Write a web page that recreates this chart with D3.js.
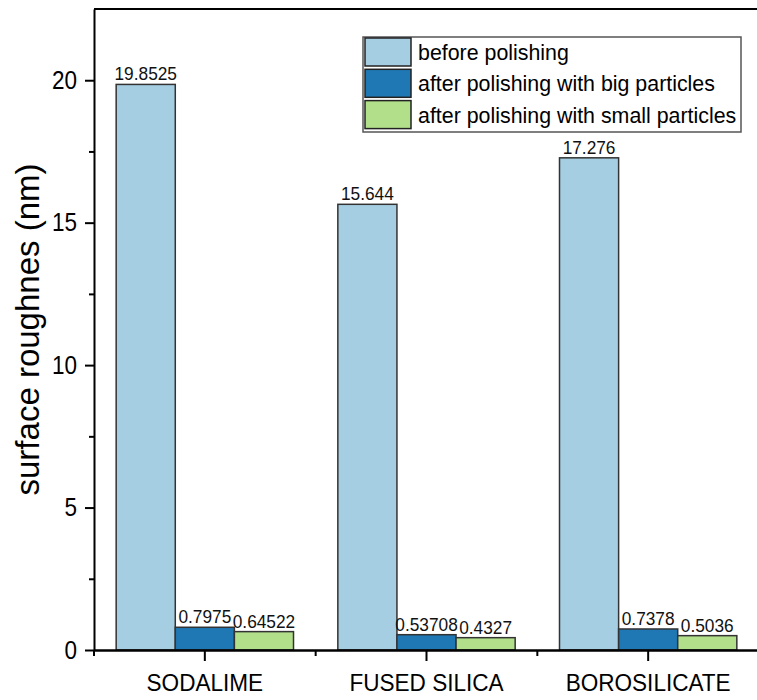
<!DOCTYPE html>
<html>
<head>
<meta charset="utf-8">
<script src="https://cdn.jsdelivr.net/npm/d3@7/dist/d3.min.js"></script>
<style>
  body { margin: 0; background: #fff; }
  svg { display: block; font-family: "Liberation Sans", Arial, sans-serif; }
</style>
</head>
<body>
<svg id="chart" width="757" height="700"></svg>
<script>
// chart data
var categories = ["SODALIME", "FUSED SILICA", "BOROSILICATE"];
var seriesNames = ["before polishing", "after polishing with big particles", "after polishing with small particles"];
var beforePolishing = [19.8525, 15.644, 17.276];
var bigParticles = [0.7975, 0.53708, 0.7378];
var smallParticles = [0.64522, 0.4327, 0.5036];
var labelsBefore = ["19.8525", "15.644", "17.276"];
var labelsBig = ["0.7975", "0.53708", "0.7378"];
var labelsSmall = ["0.64522", "0.4327", "0.5036"];
var yMajorTicks = [0, 5, 10, 15, 20];
var yMinorTicks = [2.5, 7.5, 12.5, 17.5];
var colors = ["#a6cee3", "#1f78b4", "#b2df8a"];

var allSeries = [beforePolishing, bigParticles, smallParticles];
var allLabels = [labelsBefore, labelsBig, labelsSmall];

var svg = d3.select("#chart");
// plot box (right edge falls just outside the picture)
var plotLeft = 94, plotRight = 759, plotTop = 9, plotBottom = 650;

var x = d3.scaleBand()
  .domain(categories)
  .range([plotLeft, plotRight])
  .paddingInner(0.2)
  .paddingOuter(0.1);

var xSub = d3.scaleBand()
  .domain(d3.range(seriesNames.length))
  .range([0, x.bandwidth()]);

var y = d3.scaleLinear()
  .domain([0, 22.5])
  .range([plotBottom, plotTop]);

// rows: one per bar
var rows = [];
categories.forEach(function(c, i) {
  allSeries.forEach(function(s, k) {
    rows.push({cat: c, k: k, value: s[i], label: allLabels[k][i]});
  });
});

var bars = svg.append("g");
bars.selectAll("rect")
  .data(rows)
  .enter().append("rect")
  .attr("x", function(d) { return x(d.cat) + xSub(d.k); })
  .attr("y", function(d) { return y(d.value); })
  .attr("width", xSub.bandwidth())
  .attr("height", function(d) { return y(0) - y(d.value); })
  .attr("fill", function(d) { return colors[d.k]; })
  .attr("stroke", "#333")
  .attr("stroke-width", 1.5);

// text in the original is a bit narrow, so squeeze it horizontally
bars.selectAll("text")
  .data(rows)
  .enter().append("text")
  .attr("transform", function(d) {
    return "translate(" + (x(d.cat) + xSub(d.k) + xSub.bandwidth() / 2) + "," + (y(d.value) - 4) + ") scale(0.91,1)";
  })
  .attr("text-anchor", "middle")
  .style("font-size", "19px")
  .attr("fill", "#111")
  .text(function(d) { return d.label; });

// frame top line
svg.append("line")
  .attr("x1", plotLeft).attr("x2", plotRight)
  .attr("y1", plotTop).attr("y2", plotTop)
  .attr("stroke", "#000").attr("stroke-width", 2);

// y axis
var ySx = 0.9;
var yAxis = svg.append("g")
  .attr("transform", "translate(" + plotLeft + ",0)")
  .call(d3.axisLeft(y).tickValues(yMajorTicks).tickSize(9).tickPadding(8).tickSizeOuter(0));
yAxis.select(".domain").attr("stroke-width", 2);
yAxis.selectAll(".tick line").attr("stroke-width", 2);
yAxis.selectAll(".tick text")
  .style("font-size", "25px").attr("fill", "#000").attr("font-family", null)
  .attr("x", -17 / ySx)
  .attr("transform", "scale(" + ySx + ",1)");

var yMinor = svg.append("g")
  .attr("transform", "translate(" + plotLeft + ",0)")
  .call(d3.axisLeft(y).tickValues(yMinorTicks).tickSize(5).tickFormat("").tickSizeOuter(0));
yMinor.select(".domain").remove();
yMinor.selectAll(".tick line").attr("stroke-width", 2);

// x axis
var xAxis = svg.append("g")
  .attr("transform", "translate(0," + plotBottom + ")")
  .call(d3.axisBottom(x).tickSize(11).tickPadding(13).tickSizeOuter(0));
xAxis.select(".domain").attr("stroke-width", 2.5);
xAxis.selectAll(".tick line").attr("stroke-width", 2);
xAxis.selectAll(".tick text")
  .style("font-size", "24px").attr("fill", "#000").attr("font-family", null)
  .attr("transform", "scale(0.94,1)");

var xMinor = svg.append("g")
  .attr("transform", "translate(0," + plotBottom + ")");
xMinor.selectAll("line")
  .data(categories)
  .enter().append("line")
  .attr("x1", function(d) { return x(d) - x.step() * x.paddingInner() / 2; })
  .attr("x2", function(d) { return x(d) - x.step() * x.paddingInner() / 2; })
  .attr("y1", 0).attr("y2", 6)
  .attr("stroke", "#000").attr("stroke-width", 2);

// y title
svg.append("text")
  .attr("transform", "translate(39," + ((plotTop + plotBottom) / 2) + ") rotate(-90)")
  .attr("text-anchor", "middle")
  .style("font-size", "33px")
  .attr("fill", "#000")
  .text("surface roughnes (nm)");

// legend
var legend = svg.append("g").attr("transform", "translate(363,37)");
legend.append("rect")
  .attr("width", 378).attr("height", 95)
  .attr("fill", "#fff").attr("stroke", "#555").attr("stroke-width", 1.5);
var item = legend.selectAll(".item")
  .data(seriesNames)
  .enter().append("g")
  .attr("class", "item")
  .attr("transform", function(d, i) { return "translate(2," + (1 + i * 31.3) + ")"; });
item.append("rect")
  .attr("width", 46).attr("height", 28)
  .attr("fill", function(d, i) { return colors[i]; })
  .attr("stroke", "#222").attr("stroke-width", 1.5);
item.append("text")
  .attr("transform", "translate(53,22) scale(0.93,1)")
  .style("font-size", "23px")
  .attr("fill", "#000")
  .text(function(d) { return d; });
</script>
</body>
</html>
